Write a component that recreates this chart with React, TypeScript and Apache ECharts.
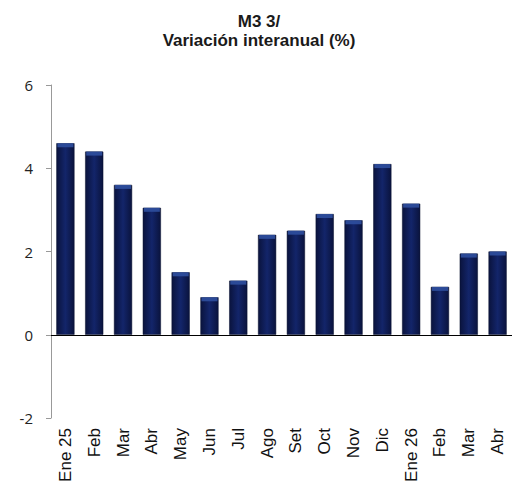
import React, { useEffect, useRef } from "react";
import * as echarts from "echarts";

const categories = ["Ene 25", "Feb", "Mar", "Abr", "May", "Jun", "Jul", "Ago", "Set", "Oct", "Nov", "Dic", "Ene 26", "Feb", "Mar", "Abr"];
const values = [4.6, 4.4, 3.6, 3.05, 1.5, 0.9, 1.3, 2.4, 2.5, 2.9, 2.75, 4.1, 3.15, 1.15, 1.95, 2.0];
const yTicks = { min: -2, max: 6, interval: 2 };

export default function App() {
  const ref = useRef<HTMLDivElement>(null);
  useEffect(() => {
    if (!ref.current) return;
    const chart = echarts.init(ref.current, null, { renderer: "svg" });
    chart.setOption({
      animation: false,
      title: {
        text: "M3 3/\nVariación interanual (%)",
        left: "center",
        top: 7,
        textStyle: { fontFamily: "Liberation Sans, Arial", fontSize: 17, fontWeight: "bold", color: "#1a1a1a", lineHeight: 19 },
      },
      grid: { left: 51, right: 6, top: 85, bottom: 71, containLabel: false },
      xAxis: {
        type: "category",
        data: categories,
        axisLine: { show: false, onZero: false },
        axisTick: { show: false },
        axisLabel: { rotate: 90, fontFamily: "Liberation Sans, Arial", fontSize: 17, color: "#111", margin: 10, interval: 0 },
      },
      yAxis: {
        type: "value",
        min: yTicks.min,
        max: yTicks.max,
        interval: yTicks.interval,
        splitLine: { show: false },
        axisLine: { show: true, lineStyle: { color: "#999", width: 1 } },
        axisTick: { show: true, length: 5, lineStyle: { color: "#999" } },
        axisLabel: { fontFamily: "Open Sans, sans-serif", fontSize: 15, color: "#222", margin: 18 },
      },
      series: [
        {
          type: "bar",
          data: values,
          barCategoryGap: "37%",
          itemStyle: {
            color: new echarts.graphic.LinearGradient(0, 0, 1, 0, [
              { offset: 0, color: "#0a133d" },
              { offset: 0.5, color: "#13256a" },
              { offset: 1, color: "#0a133d" },
            ]),
            borderColor: "#08102f",
            borderWidth: 0.5,
          },
          markLine: {
            silent: true,
            symbol: "none",
            label: { show: false },
            lineStyle: { color: "#000", width: 1, type: "solid" },
            data: [{ yAxis: 0 }],
          },
        },
        {
          type: "pictorialBar",
          data: values,
          symbol: "rect",
          symbolPosition: "end",
          symbolSize: [16, 4],
          symbolOffset: [0, 0],
          barGap: "-100%",
          z: 3,
          itemStyle: { color: "#2f4f9e", opacity: 0.9 },
        },
      ],
    });
    return () => chart.dispose();
  }, []);
  return <div ref={ref} style={{ position: "absolute", left: 0, top: 0, width: 518, height: 489 }} />;
}
